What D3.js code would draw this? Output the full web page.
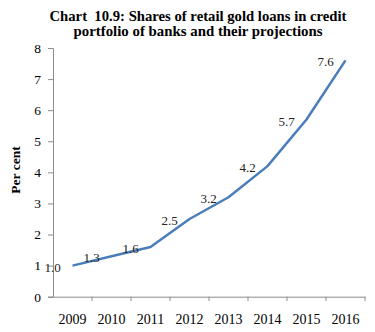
<!DOCTYPE html>
<html><head><meta charset="utf-8">
<script src="https://cdn.jsdelivr.net/npm/d3@7"></script>
<style>body{margin:0;background:#fff;}svg{display:block;}</style>
</head><body>
<script>
const years = ["2009","2010","2011","2012","2013","2014","2015","2016"];
const shares = [1.0, 1.3, 1.6, 2.5, 3.2, 4.2, 5.7, 7.6];
const yTicks = [0,1,2,3,4,5,6,7,8];
const titleLines = ["Chart  10.9: Shares of retail gold loans in credit","portfolio of banks and their projections"];
const titleWidths = [297, 249];

const W=375,H=332;
const svg=d3.select("body").append("svg").attr("width",W).attr("height",H);
const x=d3.scaleBand().domain(years).range([53,365]);
const y=d3.scaleLinear().domain([0,8]).range([296.7,48]);
const serif="'Liberation Serif','Times New Roman',serif";

svg.append("g").selectAll("text").data(titleLines).join("text")
  .attr("x",198).attr("y",(d,i)=>20.5+i*15.5).attr("text-anchor","middle")
  .attr("font-family",serif).attr("font-weight","bold").attr("font-size",14)
  .style("white-space","pre")
  .attr("textLength",(d,i)=>titleWidths[i]).attr("lengthAdjust","spacingAndGlyphs")
  .text(d=>d);

// y axis
const ya=svg.append("g").attr("transform","translate(53,0)")
  .call(d3.axisLeft(y).tickValues(yTicks).tickSize(5).tickPadding(7).tickFormat(d3.format("d")));
ya.select(".domain").attr("stroke","#8c8c8c");
ya.selectAll(".tick line").attr("stroke","#8c8c8c");
ya.selectAll("text").attr("font-family",serif).attr("font-size",13.5).attr("fill","#000");

// x axis
const xa=svg.append("g").attr("transform","translate(0,296.7)")
  .call(d3.axisBottom(x).tickSize(0).tickPadding(17));
xa.select(".domain").attr("stroke","#8c8c8c");
xa.selectAll("text").attr("font-family",serif).attr("font-size",14).attr("fill","#000");
// boundary ticks
svg.append("g").selectAll("line").data(years).join("line")
  .attr("x1",d=>x(d)+x.bandwidth()).attr("x2",d=>x(d)+x.bandwidth())
  .attr("y1",296.7).attr("y2",301).attr("stroke","#8c8c8c");

// y title
svg.append("text").attr("transform","translate(20,170) rotate(-90)")
  .attr("text-anchor","middle").attr("font-family",serif).attr("font-weight","bold")
  .attr("font-size",13.5).text("Per cent");

const cx=d=>x(d)+x.bandwidth()/2;
const line=d3.line().x((d,i)=>cx(years[i])).y(d=>y(d));
svg.append("path").datum(shares).attr("d",line).attr("fill","none")
  .attr("stroke","#4a7ebb").attr("stroke-width",2.5).attr("stroke-linejoin","round");

svg.append("g").selectAll("text").data(shares).join("text")
  .attr("x",(d,i)=>cx(years[i])-20).attr("y",(d,i)=>y(d)+6)
  .attr("text-anchor","middle").attr("font-family",serif).attr("font-size",13)
  .attr("fill","#222").text(d=>d3.format(".1f")(d));
</script>
</body></html>
